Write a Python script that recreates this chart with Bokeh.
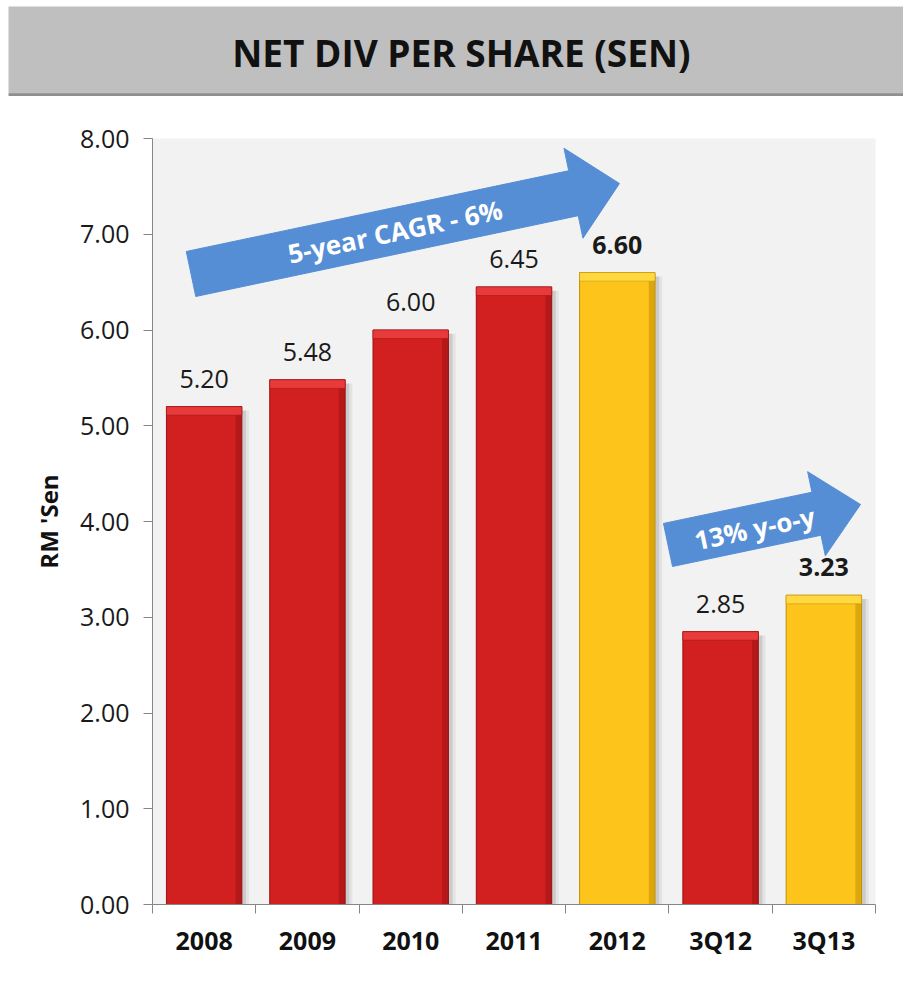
import math
import numpy as np
from bokeh.plotting import figure
from bokeh.models import (ColumnDataSource, Range1d, FactorRange, LinearAxis, CategoricalAxis,
                          FixedTicker, NumeralTickFormatter, Label, LabelSet, Span)
from bokeh.layouts import column
from bokeh.transform import dodge
from bokeh.core.properties import value, field
from bokeh.embed import file_html
from bokeh.resources import INLINE

# ---------------- data ----------------
title_text = "NET DIV PER SHARE (SEN)"
categories = ["2008", "2009", "2010", "2011", "2012", "3Q12", "3Q13"]
dividends = [5.20, 5.48, 6.00, 6.45, 6.60, 2.85, 3.23]
highlight = [False, False, False, False, True, False, True]
y_ticks = [0, 1, 2, 3, 4, 5, 6, 7, 8]
y_label = "RM 'Sen"
cagr_text = "5-year CAGR - 6%"
yoy_text = "13% y-o-y"

# ---------------- layout / style ----------------
FONT = "Open Sans"
W = 903
HEAD_H = 96
MAIN_H = 887
BL, BR, BT, BB = 152, 28, 42, 79
FW = W - BL - BR
FH = MAIN_H - BT - BB
Y_MAX = 8
N = len(categories)
BAR_W = 0.73
RED, RED_DARK, RED_LIGHT = "#d21f1f", "#9a1212", "#e83a3a"
YEL, YEL_DARK, YEL_LIGHT = "#fdc41c", "#c18f00", "#ffd93f"
ARROW_COLOR = "#558ed5"
AXIS_COLOR = "#868686"

# ---------------- header ----------------
header = figure(width=W, height=HEAD_H, x_range=Range1d(0, 1), y_range=Range1d(0, 1),
                toolbar_location=None, output_backend="svg",
                min_border_left=8, min_border_top=6, min_border_right=0, min_border_bottom=0,
                x_axis_location=None, y_axis_location=None,
                background_fill_color="#bfbfbf", border_fill_color="white",
                outline_line_color=None)
header.grid.visible = False
header.add_layout(Label(x=0.506, y=0.49, text=title_text, text_align="center",
                        text_baseline="middle", text_font=FONT, text_font_size="37px",
                        text_font_style="bold", text_color="#111111"))
header.add_layout(Span(location=0.02, dimension="width", line_color="#8f8f8f", line_width=3))

# ---------------- main chart ----------------
p = figure(width=W, height=MAIN_H, x_range=FactorRange(*categories), y_range=Range1d(0, Y_MAX),
           toolbar_location=None, output_backend="svg", x_axis_location=None,
           min_border_left=BL, min_border_right=BR, min_border_top=BT, min_border_bottom=BB,
           background_fill_color="#f2f2f2", border_fill_color="white", outline_line_color=None)
p.grid.visible = False

for fig in (header, p):
    try:
        fig.frame_align = False
    except Exception:
        pass

yax = p.yaxis[0]
yax.ticker = FixedTicker(ticks=y_ticks)
yax.formatter = NumeralTickFormatter(format="0.00")
yax.major_label_text_font = FONT
yax.major_label_text_font_size = "25px"
yax.major_label_text_color = "#1a1a1a"
yax.axis_line_color = AXIS_COLOR
yax.major_tick_line_color = AXIS_COLOR
yax.major_tick_out = 9
yax.major_tick_in = 0
yax.minor_tick_out = 0
yax.minor_tick_in = 0
yax.major_label_standoff = 14
yax.axis_label = y_label
yax.axis_label_text_font = FONT
yax.axis_label_text_font_size = "24px"
yax.axis_label_text_font_style = "bold"
yax.axis_label_text_color = "#111111"
yax.axis_label_standoff = 12

# boundary ticks between categories (synthetic coordinates 0..N)
tick_axis = LinearAxis(ticker=FixedTicker(ticks=list(range(N + 1))),
                       major_label_overrides={i: "" for i in range(N + 1)},
                       major_label_text_font_size="0px", major_label_standoff=0,
                       axis_line_color=AXIS_COLOR, major_tick_line_color=AXIS_COLOR,
                       major_tick_out=9, major_tick_in=0, minor_tick_out=0, minor_tick_in=0)
p.add_layout(tick_axis, "below")
cat_axis = CategoricalAxis(axis_line_color=None, major_tick_line_color=None,
                           major_tick_out=0, major_tick_in=0,
                           major_label_text_font=FONT, major_label_text_font_size="25px",
                           major_label_text_font_style="bold", major_label_standoff=9,
                           major_label_text_color="#111111")
p.add_layout(cat_axis, "below")

vals = np.array(dividends)
src = ColumnDataSource(dict(
    cat=categories,
    val=vals,
    shadow_top=vals - 0.04,
    hl_bottom=vals - 0.09,
    fill=[YEL if h else RED for h in highlight],
    dark=[YEL_DARK if h else RED_DARK for h in highlight],
    light=[YEL_LIGHT if h else RED_LIGHT for h in highlight],
    label=[f"{v:.2f}" for v in dividends],
    weight=["bold" if h else "normal" for h in highlight],
))

# soft shadow
p.vbar(x=dodge("cat", 0.07, range=p.x_range), top="shadow_top", width=BAR_W, source=src,
       fill_color="#000000", fill_alpha=0.06, line_color=None)
p.vbar(x=dodge("cat", 0.04, range=p.x_range), top="shadow_top", width=BAR_W, source=src,
       fill_color="#000000", fill_alpha=0.10, line_color=None)
# bar body
p.vbar(x="cat", top="val", width=BAR_W, source=src, fill_color="fill",
       line_color="dark", line_width=1)
# right dark edge
p.vbar(x=dodge("cat", BAR_W / 2 - 0.03, range=p.x_range), top="val", width=0.06, source=src,
       fill_color="dark", fill_alpha=0.55, line_color=None)
# top bevel highlight
p.vbar(x="cat", top="val", bottom="hl_bottom", width=BAR_W, source=src,
       fill_color="light", line_color="dark", line_alpha=0.5, line_width=1)

p.add_layout(LabelSet(x="cat", y="val", text="label", source=src, text_align="center",
                      text_baseline="alphabetic", y_offset=19, text_font=value(FONT),
                      text_font_size="25px", text_font_style=field("weight"),
                      text_color="#1a1a1a"))

# ---------------- arrows ----------------
PX_X = FW / N
PX_Y = FH / Y_MAX


def arrow_shape(x0, y0, x1, y1, shaft, head, head_len):
    ax, ay = x0 * PX_X, y0 * PX_Y
    bx, by = x1 * PX_X, y1 * PX_Y
    dx, dy = bx - ax, by - ay
    L = math.hypot(dx, dy)
    ux, uy = dx / L, dy / L
    nx, ny = -uy, ux
    hx, hy = bx - ux * head_len, by - uy * head_len
    pts = [(ax + nx * shaft, ay + ny * shaft), (hx + nx * shaft, hy + ny * shaft),
           (hx + nx * head, hy + ny * head), (bx, by),
           (hx - nx * head, hy - ny * head), (hx - nx * shaft, hy - ny * shaft),
           (ax - nx * shaft, ay - ny * shaft)]
    xs = [q[0] / PX_X for q in pts]
    ys = [q[1] / PX_Y for q in pts]
    return xs, ys, math.atan2(dy, dx)


# annotation anchors (start / tip in chart units)
big = arrow_shape(0.373, 6.585, 4.521, 7.53, 23, 46, 47)
small = arrow_shape(4.991, 3.755, 6.855, 4.178, 22, 43, 45)
for xs, ys, _ in (big, small):
    p.patch(xs, ys, fill_color=ARROW_COLOR, line_color=ARROW_COLOR, line_width=1)

p.add_layout(Label(x=2.348, y=7.03, text=cagr_text, angle=big[2], text_align="center",
                   text_baseline="middle", text_font=FONT, text_font_size="26px",
                   text_font_style="bold", text_color="white"))
p.add_layout(Label(x=5.828, y=3.93, text=yoy_text, angle=small[2], text_align="center",
                   text_baseline="middle", text_font=FONT, text_font_size="26px",
                   text_font_style="bold", text_color="white"))

layout = column(header, p, spacing=0)
open("out.html", "w").write(file_html(layout, INLINE))
